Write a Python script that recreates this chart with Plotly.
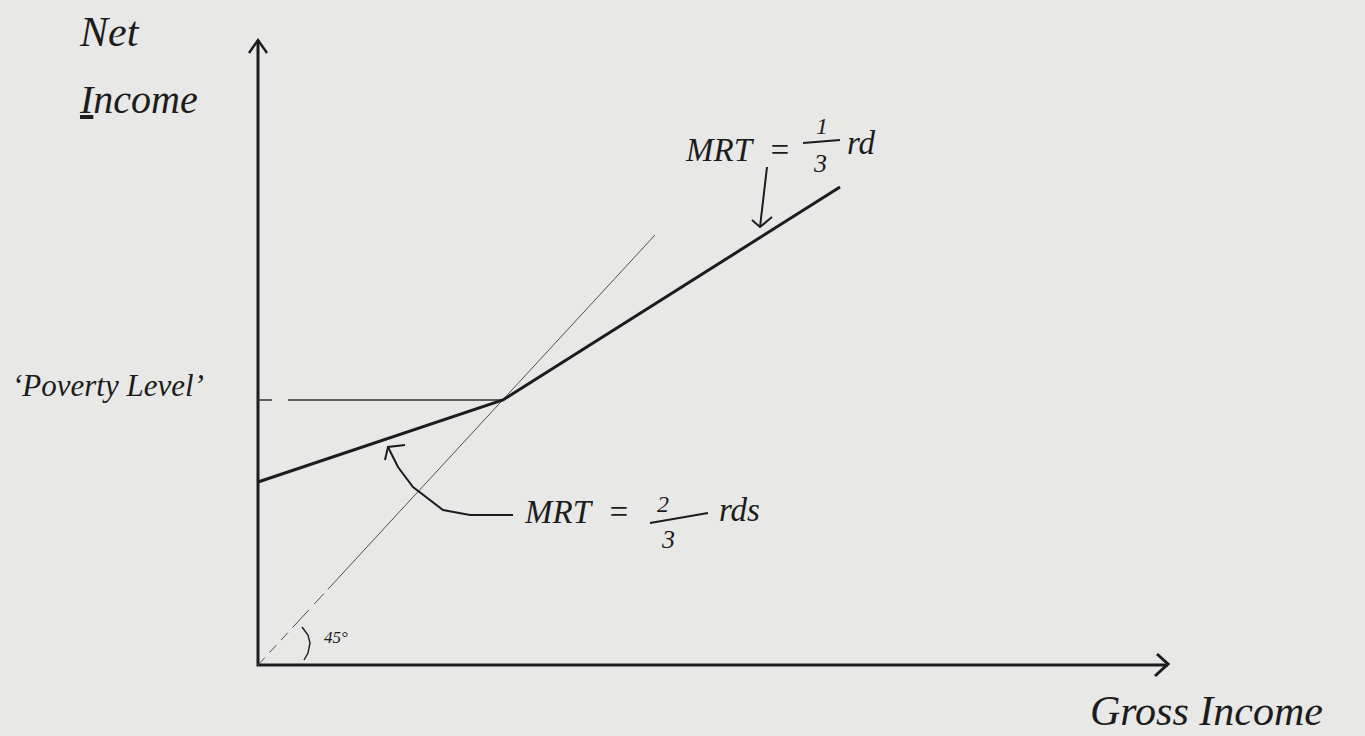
import plotly.graph_objects as go

# sketch coordinates (gross income along x, net income along y)
gross_income = [0, 245, 582]
net_income = [183, 265, 478]

diag_gross = [0, 397]
diag_net = [0, 430]

poverty_gross = [0, 245]
poverty_net = [265, 265]

axes_x = [0, 0, 910]
axes_y = [625, 0, 0]
yhead_x = [-9, 0, 9]
yhead_y = [612, 625, 612]
xhead_x = [899, 910, 897]
xhead_y = [11, 1, -11]

arc_x = [44, 50, 52, 50, 46]
arc_y = [38, 30, 22, 12, 5]

# arrow "MRT = 2/3 rds" (curved) and its head
curve_x = [255, 212, 185, 155, 140, 130]
curve_y = [150, 150, 155, 178, 198, 218]
curve_head_x = [147, 130, 127]
curve_head_y = [220, 218, 205]

# arrow "MRT = 1/3 rd" and its head
down_x = [509, 502]
down_y = [498, 438]
down_head_x = [494, 502, 514]
down_head_y = [445, 438, 448]

bar1_x = [545, 582]
bar1_y = [522, 525]
bar2_x = [392, 450]
bar2_y = [142, 152]

INK = "#1c1c1c"
PAPER = "#e8e8e6"
FONT = "Liberation Serif"

fig = go.Figure()


def line(x, y, width=2.6, color=INK, dash="solid"):
    fig.add_trace(go.Scatter(x=x, y=y, mode="lines", hoverinfo="skip",
                             line=dict(color=color, width=width, dash=dash)))


line(axes_x, axes_y, 3)
line(yhead_x, yhead_y, 2.4)
line(xhead_x, xhead_y, 3)
line(diag_gross, diag_net, 1.0, "#505050",
     "10px,7px,10px,7px,10px,7px,24px,8px,14px,6px,700px")
line(poverty_gross, poverty_net, 1.6, "#333333", "14px,16px,400px")
line(gross_income, net_income, 3)
line(arc_x, arc_y, 1.4)
line(curve_x, curve_y, 2)
line(curve_head_x, curve_head_y, 2)
line(down_x, down_y, 2)
line(down_head_x, down_head_y, 2)
line(bar1_x, bar1_y, 2)
line(bar2_x, bar2_y, 2)


def label(text, x, y, size=30, anchor="left"):
    fig.add_annotation(x=x, y=y, xref="x", yref="y", text=text, showarrow=False,
                       xanchor=anchor, yanchor="middle",
                       font=dict(family=FONT, size=size, color=INK, style="italic"))


label("Net", -181, 633, 42)
label("<u>I</u>ncome", -181, 566, 40)
label("\u2018Poverty Level\u2019", -248, 280, 31)
label("MRT\u00a0\u00a0=", 425, 515, 33)
label("1", 564, 539, 24, "center")
label("3", 562, 502, 26, "center")
label("rd", 587, 522, 33)
label("MRT\u00a0\u00a0=", 264, 153, 33)
label("2", 405, 161, 24, "center")
label("3", 410, 126, 26, "center")
label("rds", 459, 155, 33)
label("45\u00b0", 64, 28, 17)
label("Gross Income", 830, -46, 42)

fig.update_layout(
    width=1365, height=736, autosize=False,
    margin=dict(l=0, r=0, t=0, b=0),
    paper_bgcolor=PAPER, plot_bgcolor=PAPER,
    showlegend=False,
    xaxis=dict(range=[-258, 1107], visible=False, fixedrange=True),
    yaxis=dict(range=[-71, 665], visible=False, fixedrange=True),
)

fig.write_html("out.html", config={"displayModeBar": False},
               post_script="document.body.style.margin='0';")
